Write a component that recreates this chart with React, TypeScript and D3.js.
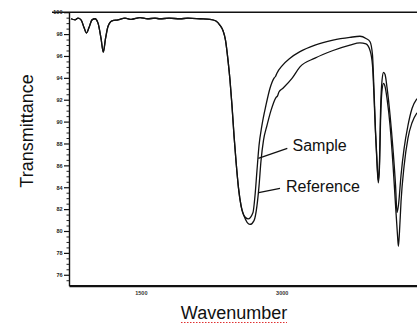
import React, { useRef, useEffect } from 'react';
import * as d3 from 'd3';

// part of the spectrum where both traces overlap
const sharedWn = [756, 799, 831, 863, 895, 921, 948, 980, 1012, 1044, 1076, 1100, 1124, 1150, 1193, 1257, 1331, 1400, 1491, 1570, 1650, 1704, 1800, 1917, 2000, 2130, 2236, 2300, 2343, 2375, 2401, 2428, 2449, 2470, 2492, 2513, 2540, 2567, 2598];
const sharedT = [99.4, 99.3, 99.45, 99.3, 98.6, 98.1, 98.6, 99.3, 99.4, 99.0, 97.6, 96.35, 97.6, 98.7, 99.2, 99.3, 99.45, 99.35, 99.5, 99.4, 99.45, 99.4, 99.45, 99.4, 99.45, 99.4, 99.35, 99.2, 98.8, 98.3, 97.45, 95.6, 93.8, 91.5, 88.7, 86.4, 83.9, 82.3, 81.4];

const sampleWn = [2641, 2694, 2715, 2736, 2758, 2789, 2832, 2875, 2920, 2935, 2950, 3003, 3088, 3194, 3354, 3546, 3726, 3833, 3897, 3940, 3966, 3982, 3998, 4014, 4028, 4041, 4052, 4068, 4084, 4100, 4121, 4153, 4185, 4212, 4227, 4243, 4270, 4302, 4344, 4387, 4440];
const sampleT = [81.1, 81.7, 83.2, 85.5, 87.8, 89.65, 91.5, 93.05, 94.0, 94.15, 94.45, 95.1, 95.8, 96.4, 97.0, 97.45, 97.7, 97.8, 97.6, 97.3, 96.1, 92.9, 89.2, 86.4, 84.6, 86.4, 91.0, 93.8, 94.5, 94.3, 93.1, 90.6, 87.4, 84.1, 81.7, 82.4, 85.1, 87.5, 89.65, 91.2, 92.1];

const refWn = [2662, 2705, 2736, 2758, 2779, 2806, 2843, 2885, 2938, 2955, 2970, 3013, 3109, 3194, 3354, 3546, 3726, 3833, 3897, 3940, 3966, 3982, 3998, 4014, 4028, 4041, 4052, 4068, 4084, 4100, 4121, 4153, 4185, 4212, 4233, 4242, 4254, 4270, 4302, 4344, 4387, 4440];
const refT = [80.6, 80.95, 82.3, 84.1, 86.4, 88.3, 89.65, 91.0, 92.2, 92.35, 92.7, 93.05, 93.95, 95.0, 95.8, 96.5, 97.0, 97.2, 97.1, 96.5, 95.15, 92.4, 89.0, 86.2, 84.4, 86.0, 90.1, 92.9, 93.5, 93.2, 92.1, 89.65, 86.0, 82.3, 79.55, 78.6, 80.0, 82.7, 85.9, 88.5, 89.9, 90.8];

const yTicks = [100, 98, 96, 94, 92, 90, 88, 86, 84, 82, 80, 78, 76];
const xTicks = [1500, 3000];

const App: React.FC = () => {
    const svgRef = useRef<SVGSVGElement | null>(null);

    useEffect(() => {
        const svg = d3.select(svgRef.current);
        svg.selectAll('*').remove();
        const width = 417;
        const height = 325;

        const x = d3.scaleLinear().domain([735, 4440]).range([69, 417]);
        const y = d3.scaleLinear().domain([75, 100]).range([285.7, 12.2]);

        const sample = sharedWn.map((w, i) => [w, sharedT[i]]).concat(sampleWn.map((w, i) => [w, sampleT[i]]));
        const reference = sharedWn.map((w, i) => [w, sharedT[i]]).concat(refWn.map((w, i) => [w, refT[i]]));

        const line = d3.line<number[]>()
            .x(d => x(d[0]))
            .y(d => y(d[1]))
            .curve(d3.curveMonotoneX);

        // top frame line
        svg.append('line')
            .attr('x1', 52).attr('x2', width)
            .attr('y1', y(100)).attr('y2', y(100))
            .attr('stroke', '#111').attr('stroke-width', 1.6);

        // minor ticks on y axis
        const minor = d3.range(75.5, 100, 0.5).filter(v => v % 2 !== 0);
        svg.append('g')
            .attr('transform', 'translate(69,0)')
            .call(d3.axisLeft(y).tickValues(minor).tickSize(2.5).tickFormat(() => ''))
            .call(g => g.select('.domain').remove())
            .selectAll('line').attr('stroke', '#222');

        const yAxis = svg.append('g')
            .attr('transform', 'translate(69,0)')
            .call(d3.axisLeft(y).tickValues(yTicks).tickSize(5).tickSizeOuter(0).tickPadding(1.5));
        yAxis.select('.domain').attr('stroke', '#111').attr('stroke-width', 1.4);
        yAxis.selectAll('line').attr('stroke', '#111').attr('stroke-width', 1.2);
        yAxis.selectAll('text')
            .style('font-family', 'Liberation Sans, Arial, sans-serif')
            .style('font-size', '5.5px')
            .style('font-weight', 'bold')
            .attr('fill', '#222');

        const xAxis = svg.append('g')
            .attr('transform', `translate(0,${y(75)})`)
            .call(d3.axisBottom(x).tickValues(xTicks).tickFormat(d3.format('d')).tickSize(0).tickSizeOuter(0).tickPadding(5));
        xAxis.select('.domain').attr('stroke', '#111').attr('stroke-width', 2.2);
        xAxis.selectAll('text')
            .style('font-family', 'Liberation Sans, Arial, sans-serif')
            .style('font-size', '5.5px')
            .style('font-weight', 'bold')
            .attr('fill', '#333');

        [reference, sample].forEach(data => {
            svg.append('path')
                .datum(data)
                .attr('d', line)
                .attr('fill', 'none')
                .attr('stroke', '#111')
                .attr('stroke-width', 1.3);
        });

        // annotations
        const annotations = [
            { label: 'Sample', tx: 292.5, ty: 150.5, from: [287.3, 148.3], to: [258.3, 158.3] },
            { label: 'Reference', tx: 286, ty: 191.7, from: [280, 188.3], to: [258.7, 192.7] }
        ];
        annotations.forEach(a => {
            svg.append('line')
                .attr('x1', a.from[0]).attr('y1', a.from[1])
                .attr('x2', a.to[0]).attr('y2', a.to[1])
                .attr('stroke', '#111').attr('stroke-width', 1.3);
            svg.append('text')
                .attr('x', a.tx).attr('y', a.ty)
                .style('font-family', 'Liberation Sans, Arial, sans-serif')
                .style('font-size', '16px')
                .attr('fill', '#111')
                .text(a.label);
        });

        // axis titles
        svg.append('text')
            .attr('transform', 'translate(33,131) rotate(-90)')
            .attr('text-anchor', 'middle')
            .style('font-family', 'Liberation Sans, Arial, sans-serif')
            .style('font-size', '18px')
            .attr('fill', '#111')
            .text('Transmittance');

        svg.append('text')
            .attr('x', 234)
            .attr('y', 319)
            .attr('text-anchor', 'middle')
            .style('font-family', 'Liberation Sans, Arial, sans-serif')
            .style('font-size', '18px')
            .attr('fill', '#111')
            .text('Wavenumber');

        svg.append('line')
            .attr('x1', 181).attr('x2', 287)
            .attr('y1', 322.5).attr('y2', 322.5)
            .attr('stroke', '#e03030')
            .attr('stroke-width', 1)
            .attr('stroke-dasharray', '1.5,1.5');

        svg.attr('width', width).attr('height', height);
    }, []);

    return (
        <svg
            ref={svgRef}
            width={417}
            height={325}
            style={{ position: 'absolute', left: 0, top: 0, background: '#fff' }}
        />
    );
};

export default App;
